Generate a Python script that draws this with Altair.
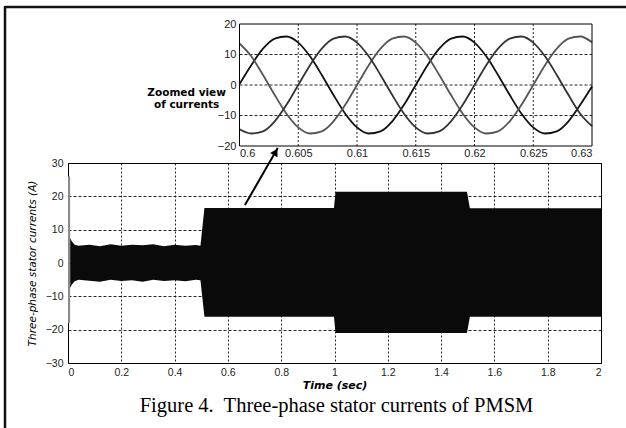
import altair as alt
import pandas as pd

# ---------------- main plot: envelope of the three-phase currents (A) ----------------
band_t = [0.008, 0.014, 0.025, 0.04, 0.08, 0.12, 0.16, 0.20, 0.24, 0.28, 0.32, 0.36,
          0.40, 0.44, 0.48, 0.497, 0.512, 0.998, 1.004, 1.497, 1.508, 2.0]
band_hi = [7.5, 6.5, 5.5, 5.2, 5.5, 5.0, 5.6, 5.2, 5.5, 5.3, 5.6, 5.0,
           5.5, 5.2, 5.4, 5.2, 16.5, 16.5, 21.4, 21.4, 16.4, 16.4]
band_lo = [-7.5, -6.5, -5.5, -5.0, -5.3, -5.6, -5.0, -5.4, -5.2, -5.6, -5.0, -5.4,
           -5.2, -5.5, -5.0, -5.2, -16.1, -16.1, -21.0, -21.0, -16.1, -16.1]

# start-up transient spike
spike_t = [0.0, 0.008]
spike_hi = [26.0, 26.0]
spike_lo = [-18.0, -18.0]

x_ticks = [0, 0.2, 0.4, 0.6, 0.8, 1, 1.2, 1.4, 1.6, 1.8, 2]
y_ticks = [-30, -20, -10, 0, 10, 20, 30]

# ---------------- zoomed view: samples read every 1 ms from 0.600 s to 0.630 s ----------------
zoom_t = [0.600, 0.601, 0.602, 0.603, 0.604, 0.605, 0.606, 0.607, 0.608, 0.609, 0.610,
          0.611, 0.612, 0.613, 0.614, 0.615, 0.616, 0.617, 0.618, 0.619, 0.620,
          0.621, 0.622, 0.623, 0.624, 0.625, 0.626, 0.627, 0.628, 0.629, 0.630]
zoom_ia = [0.3, 6.5, 11.9, 15.2, 15.9, 13.9, 9.4, 3.3, -3.3, -9.4, -13.9,
           -15.9, -15.2, -11.9, -6.5, 0.0, 6.5, 11.9, 15.2, 15.9, 13.9,
           9.4, 3.3, -3.3, -9.4, -13.9, -15.9, -15.2, -11.9, -6.5, -0.5]
zoom_ib = [13.6, 9.4, 3.3, -3.3, -9.4, -13.9, -15.9, -15.2, -11.9, -6.5, 0.0,
           6.5, 11.9, 15.2, 15.9, 13.9, 9.4, 3.3, -3.3, -9.4, -13.9,
           -15.9, -15.2, -11.9, -6.5, 0.0, 6.5, 11.9, 15.2, 15.9, 14.0]
zoom_ic = [-14.5, -15.9, -15.2, -11.9, -6.5, 0.0, 6.5, 11.9, 15.2, 15.9, 13.9,
           9.4, 3.3, -3.3, -9.4, -13.9, -15.9, -15.2, -11.9, -6.5, 0.0,
           6.5, 11.9, 15.2, 15.9, 13.9, 9.4, 3.3, -3.3, -9.4, -13.5]
phase_names = ["ia", "ib", "ic"]
phase_colors = ["#111111", "#555555", "#333333"]

zoom_x_ticks = [0.6, 0.605, 0.61, 0.615, 0.62, 0.625, 0.63]
zoom_y_ticks = [-20, -10, 0, 10, 20]
zoom_box_t = [0.6, 0.63]
zoom_box_i = [-20, 20]

# annotations
note_t = [0.5955]
note_i = [-2.7]
note_text = ["Zoomed view\nof currents"]
arrow_t = [0.664, 0.787]
arrow_i = [17.4, 34.5]
head_t = [0.779]
head_i = [33.3]

caption = "Figure 4.\u00a0 Three-phase stator currents of PMSM"

# ---------------- data frames ----------------
band_df = pd.DataFrame({"t": band_t, "hi": band_hi, "lo": band_lo})
spike_df = pd.DataFrame({"t": spike_t, "hi": spike_hi, "lo": spike_lo})
arrow_df = pd.DataFrame({"t": [arrow_t[0]], "hi": [arrow_i[0]],
                         "t2": [arrow_t[1]], "hi2": [arrow_i[1]]})
head_df = pd.DataFrame({"t": head_t, "hi": head_i})

zoom_rows = []
for name, vals in zip(phase_names, [zoom_ia, zoom_ib, zoom_ic]):
    for t, v in zip(zoom_t, vals):
        zoom_rows.append({"t": t, "i": v, "phase": name})
zoom_df = pd.DataFrame(zoom_rows)
box_df = pd.DataFrame({"t": [zoom_box_t[0]], "t2": [zoom_box_t[1]],
                       "i": [zoom_box_i[0]], "i2": [zoom_box_i[1]]})
vgrid_df = pd.DataFrame({"t": zoom_x_ticks[1:-1],
                         "i": [zoom_box_i[0]] * (len(zoom_x_ticks) - 2),
                         "i2": [zoom_box_i[1]] * (len(zoom_x_ticks) - 2)})
hgrid_df = pd.DataFrame({"i": zoom_y_ticks[1:-1],
                         "t": [zoom_box_t[0]] * (len(zoom_y_ticks) - 2),
                         "t2": [zoom_box_t[1]] * (len(zoom_y_ticks) - 2)})
note_df = pd.DataFrame({"t": note_t, "i": note_i, "txt": note_text})

W, H = 533, 200

# ---------------- main plot ----------------
x_main = alt.X("t:Q", scale=alt.Scale(domain=[0, 2], nice=False, zero=False),
               axis=alt.Axis(values=x_ticks, format="~g", title="Time (sec)", orient="bottom",
                             grid=True, gridDash=[2, 2], labelPadding=4, titlePadding=2,
                             labelFontSize=10.5, titleFont="DejaVu Sans", titleFontSize=11,
                             titleFontWeight="bold", titleFontStyle="italic"))
y_main = alt.Y("hi:Q", scale=alt.Scale(domain=[-30, 30], nice=False, zero=False),
               axis=alt.Axis(values=y_ticks, title="Three-phase stator currents (A)", orient="left",
                             grid=True, gridDash=[3, 2], labelPadding=5, titlePadding=8,
                             labelFontSize=10.5, titleFont="DejaVu Sans", titleFontSize=10.5,
                             titleFontWeight="normal", titleFontStyle="italic"))

band = alt.Chart(band_df).mark_area(color="#0a0a0a", opacity=1).encode(
    x=x_main, y=y_main, y2="lo:Q")
spike = alt.Chart(spike_df).mark_area(color="#8a8a8a", opacity=1).encode(
    x=x_main, y=y_main, y2="lo:Q")
arrow = alt.Chart(arrow_df).mark_rule(color="black", strokeWidth=2).encode(
    x=x_main, y=y_main, x2="t2:Q", y2="hi2:Q")
head = alt.Chart(head_df).mark_point(shape="triangle-up", filled=True, size=70, angle=30,
                                     color="black", opacity=1).encode(x=x_main, y=y_main)
main = alt.layer(band, spike, arrow, head)

# ---------------- zoomed view (inset, drawn with its own scales) ----------------
x_zoom = alt.X("t:Q", scale=alt.Scale(domain=[0.6, 0.63], range=[171.5, 524], nice=False, zero=False),
               axis=alt.Axis(values=zoom_x_ticks, format="~g", title=None, orient="bottom",
                             offset=-217, grid=False, labelPadding=1.5, labelFontSize=11))
y_zoom = alt.Y("i:Q", scale=alt.Scale(domain=[-20, 20], range=[-17, -139], nice=False, zero=False),
               axis=alt.Axis(values=zoom_y_ticks, title=None, orient="left", offset=-171.5,
                             grid=False, labelPadding=3.5, labelFontSize=11))

zoom_vgrid = alt.Chart(vgrid_df).mark_rule(color="#000", opacity=0.85, strokeDash=[2, 2]).encode(
    x=x_zoom, y=y_zoom, y2="i2:Q")
zoom_hgrid = alt.Chart(hgrid_df).mark_rule(color="#000", opacity=0.85, strokeDash=[3, 2]).encode(
    x=x_zoom, x2="t2:Q", y=y_zoom)
zoom_lines = alt.Chart(zoom_df).mark_line(strokeWidth=1.8, interpolate="monotone").encode(
    x=x_zoom, y=y_zoom,
    color=alt.Color("phase:N", scale=alt.Scale(domain=phase_names, range=phase_colors), legend=None))
zoom_box = alt.Chart(box_df).mark_rect(fill=None, stroke="black", strokeWidth=1).encode(
    x=x_zoom, x2="t2:Q", y=y_zoom, y2="i2:Q")
zoom_note = alt.Chart(note_df).mark_text(font="DejaVu Sans", fontSize=10.5, fontWeight="bold",
                                         lineBreak="\n", lineHeight=12, align="center",
                                         baseline="middle", color="black").encode(
    x=x_zoom, y=y_zoom, text="txt:N")
inset = alt.layer(zoom_vgrid, zoom_hgrid, zoom_lines, zoom_box, zoom_note)

# ---------------- figure frame (top and left border of the scanned figure) and caption ----------------
one = pd.DataFrame({"a": [0]})
frame_top = alt.Chart(one).mark_rule(color="#111", strokeWidth=2.5).encode(
    x=alt.value(-63), x2=alt.value(W + 30), y=alt.value(-156))
frame_left = alt.Chart(one).mark_rule(color="#111", strokeWidth=2.5).encode(
    x=alt.value(-63), y=alt.value(-157), y2=alt.value(H + 70))
cap = alt.Chart(one).mark_text(font="Liberation Serif", fontSize=20.5, align="center",
                               baseline="alphabetic", color="black", text=caption).encode(
    x=alt.value(268.5), y=alt.value(249))

chart = alt.layer(main, inset, frame_top, frame_left, cap).resolve_scale(
    x="independent", y="independent", color="independent"
).properties(
    width=W, height=H,
    autosize=alt.AutoSizeParams(type="none"),
    padding={"left": 68, "top": 163, "right": 25, "bottom": 65},
    background="white",
).configure_view(
    stroke="black", strokeWidth=1
).configure_axis(
    labelFont="Liberation Sans", labelColor="#222", ticks=False, domain=False,
    gridColor="#000", gridOpacity=0.85, gridWidth=1, titleColor="black"
)

chart.save("out.html", embed_options={"renderer": "svg", "actions": False})
